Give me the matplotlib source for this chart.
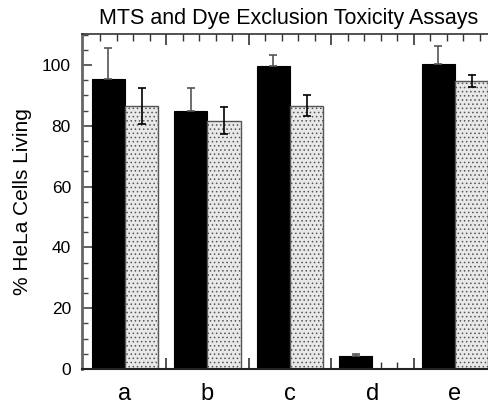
import numpy as np
import matplotlib
matplotlib.use("Agg")
import matplotlib.pyplot as plt

# ===== DATA =====
groups     = ["a", "b", "c", "d", "e"]
mts        = [95.3, 84.9, 99.7, 4.4, 100.3]
mts_err    = [10.2, 7.4, 3.6, 0.5, 6.0]
dye        = [86.6, 81.7, 86.6, 0.0, 94.7]
dye_err    = [6.0, 4.5, 3.4, 0.0, 2.0]

plt.rcParams['font.family'] = ['Liberation Sans', 'DejaVu Sans']
plt.rcParams['hatch.color'] = '#c8c8c8'
plt.rcParams['hatch.linewidth'] = 0.6

fig = plt.figure(figsize=(4.89, 4.04), dpi=100)
ax = fig.add_axes([82/489, 35/404, 1.0 - 82/489, (369-34)/404])

x = np.arange(1, len(groups) + 1)
w = 0.405

ax.bar(x - w/2, mts, w, color='black', edgecolor='black', linewidth=0.8,
       yerr=[np.zeros(len(mts)), mts_err], ecolor='#555555',
       error_kw=dict(capsize=3, elinewidth=1.2, capthick=1.2), zorder=2)

dye_mask = np.array(dye) > 0
ax.bar(x[dye_mask] + w/2, np.array(dye)[dye_mask], w, facecolor='#e8e8e8',
       edgecolor='#555555', linewidth=1.0, hatch='....', zorder=2)
ax.errorbar(x[dye_mask] + w/2, np.array(dye)[dye_mask], yerr=np.array(dye_err)[dye_mask],
            fmt='none', ecolor='black', elinewidth=1.2, capsize=3, capthick=1.2, zorder=3)

ax.set_xlim(1 - 43/82.5, 1 + 364/82.5)
ax.set_ylim(0, 110.2)

# ticks
ax.set_yticks(np.arange(0, 101, 20))
ax.set_yticks(np.arange(0, 111, 5), minor=True)
ax.set_xticks([1.5, 2.5, 3.5, 4.5])
ax.set_xticks([0.7, 0.9, 1.1, 1.3, 1.7, 1.9, 2.1, 2.3, 2.7, 2.9, 3.1, 3.3,
               3.7, 3.9, 4.1, 4.3, 4.7, 4.9, 5.1, 5.3], minor=True)
ax.xaxis.set_tick_params(which='both', direction='in', top=True, bottom=True,
                         labelbottom=False)
ax.xaxis.set_tick_params(which='major', length=8, width=1.2, color='#333333')
ax.xaxis.set_tick_params(which='minor', length=5, width=1.0, color='#333333')
ax.tick_params(axis='y', which='major', direction='in', length=7, width=1.2,
               labelsize=12.5, pad=8, color='#444444')
ax.tick_params(axis='y', which='minor', direction='in', length=4, width=1.0, color='#444444')

for i, g in enumerate(groups):
    ax.text(x[i], -31/335, g, transform=ax.get_xaxis_transform(),
            ha='center', va='baseline', fontsize=17)

ax.spines['right'].set_visible(False)
ax.spines['left'].set_color('#666666')
ax.spines['left'].set_linewidth(2)
ax.spines['top'].set_color('#333333')
ax.spines['top'].set_linewidth(1.2)
ax.spines['bottom'].set_color('#222222')
ax.spines['bottom'].set_linewidth(1.5)

ax.set_ylabel('% HeLa Cells Living', fontsize=15, labelpad=7)
fig.text(0.59, 0.955, 'MTS and Dye Exclusion Toxicity Assays', ha='center',
         va='center', fontsize=15.5)

fig.savefig("out.png", dpi=100)
